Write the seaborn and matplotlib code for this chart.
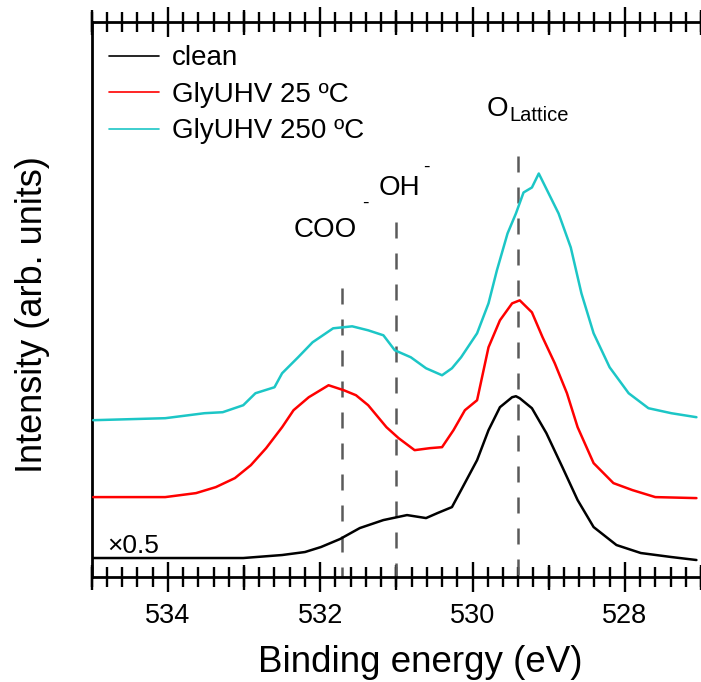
import numpy as np
import pandas as pd
import matplotlib
matplotlib.use("Agg")
import matplotlib.pyplot as plt
from matplotlib.ticker import MultipleLocator, FixedLocator, NullFormatter
import seaborn as sns

# ---------------- data ----------------
be_clean = [534.98, 534.035, 533.01, 532.50, 532.20, 531.99, 531.74, 531.48, 531.17,
            530.86, 530.61, 530.46, 530.27, 530.15, 529.94, 529.79, 529.64, 529.48,
            529.43, 529.38, 529.22, 529.03, 528.82, 528.62, 528.41, 528.11, 527.79,
            527.39, 527.06]
int_clean = [19, 19, 19, 22, 25, 30, 38, 49, 57, 62, 59, 64, 70, 87, 117, 147, 170, 180,
             181, 179, 169, 144, 110, 77, 50, 32, 24, 20, 17]

be_25 = [534.98, 534.035, 533.63, 533.37, 533.12, 532.91, 532.71, 532.50, 532.35, 532.15,
         531.89, 531.69, 531.53, 531.37, 531.13, 530.97, 530.76, 530.56, 530.40, 530.25,
         530.10, 529.94, 529.79, 529.64, 529.48, 529.38, 529.22, 529.08, 528.92, 528.76,
         528.62, 528.41, 528.15, 527.90, 527.60, 527.06]
int_25 = [80, 80, 84, 90, 99, 112, 129, 150, 167, 180, 192, 187, 182, 172, 150, 139, 127,
          129, 130, 147, 167, 177, 230, 257, 274, 277, 265, 240, 214, 184, 150, 114, 94,
          87, 80, 79]

be_250 = [534.98, 534.035, 533.52, 533.28, 533.01, 532.85, 532.60, 532.50, 532.29, 532.10,
          531.83, 531.58, 531.37, 531.17, 531.02, 530.81, 530.61, 530.40, 530.27, 530.15,
          529.94, 529.79, 529.68, 529.54, 529.43, 529.33, 529.22, 529.13, 529.00, 528.87,
          528.71, 528.57, 528.41, 528.20, 527.95, 527.69, 527.39, 527.06]
int_250 = [157, 159, 164, 165, 172, 184, 190, 204, 220, 235, 249, 251, 247, 242, 227, 220,
           209, 202, 209, 220, 244, 274, 307, 344, 364, 385, 390, 404, 384, 364, 330, 284,
           244, 210, 184, 169, 164, 160]

labels = ["clean", "GlyUHV 25 ºC", "GlyUHV 250 ºC"]
colors = ["#000000", "#ff0000", "#1cc6c6"]

peak_pos = [531.72, 531.0, 529.4]
peak_top = [289, 355, 422]

# ---------------- build frame ----------------
df = pd.concat([
    pd.DataFrame({"BE": be_clean, "I": int_clean, "sample": labels[0]}),
    pd.DataFrame({"BE": be_25, "I": int_25, "sample": labels[1]}),
    pd.DataFrame({"BE": be_250, "I": int_250, "sample": labels[2]}),
], ignore_index=True)

sns.set_style("white")
plt.rcParams["font.family"] = ["Liberation Sans", "DejaVu Sans"]
plt.rcParams["text.color"] = "black"
plt.rcParams["xtick.color"] = "black"
plt.rcParams["axes.labelcolor"] = "black"

W, H = 701, 682
fig = plt.figure(figsize=(W / 100, H / 100), dpi=100)
ax_l, ax_r, ax_b, ax_t = 91.7, 701.0, 577.0, 21.7
ax = fig.add_axes([ax_l / W, 1 - ax_b / H, (ax_r - ax_l) / W, (ax_b - ax_t) / H])

# dashed peak markers (drawn top -> bottom so the dash pattern starts at the top)
ax.vlines(peak_pos, peak_top, 0, colors="#5a5a5a", linewidth=1.8,
          linestyles=(0, (6.4, 6.0)), zorder=1)

sns.lineplot(data=df, x="BE", y="I", hue="sample", hue_order=labels,
             palette=colors, estimator=None, sort=False, linewidth=1.8, ax=ax, zorder=3)

ax.set_xlim(535, 527)
ax.set_ylim(0, 556)
ax.set_xlabel("")
ax.set_ylabel("")

# ticks
ax.xaxis.set_major_locator(FixedLocator([534, 532, 530, 528]))
ax.xaxis.set_minor_locator(MultipleLocator(0.2))
ax.set_yticks([])
ax.tick_params(axis="x", which="major", direction="inout", length=22, width=1.7,
               top=True, bottom=True, labelsize=19.5, pad=8, colors="black")
ax.tick_params(axis="x", which="minor", direction="inout", length=14, width=1.7,
               top=True, bottom=True, colors="black")
for side in ["bottom", "top"]:
    sec = ax.secondary_xaxis(side)
    sec.set_xticks([535, 533, 531, 529, 527])
    sec.xaxis.set_major_formatter(NullFormatter())
    sec.tick_params(direction="inout", length=18, width=1.7, colors="black")
    for sp in sec.spines.values():
        sp.set_visible(False)

for s in ["left", "bottom", "top"]:
    ax.spines[s].set_linewidth(2.0)
    ax.spines[s].set_color("black")
ax.spines["right"].set_visible(False)

# axis labels
fig.text(420 / W, 1 - 672 / H, "Binding energy (eV)", fontsize=26.5,
         ha="center", va="baseline")
fig.text(33 / W, 1 - 315 / H, "Intensity (arb. units)", fontsize=26,
         rotation=90, ha="center", va="center")

# annotations
ax.text(532.345, 340, "COO", fontsize=20, ha="left", va="baseline")
ax.text(531.45, 374, "-", fontsize=14, ha="left", va="center")
ax.text(531.23, 382, "OH", fontsize=20, ha="left", va="baseline")
ax.text(530.65, 410, "-", fontsize=14, ha="left", va="center")
ax.text(529.81, 462, "O", fontsize=20, ha="left", va="baseline")
ax.text(529.52, 457, "Lattice", fontsize=14.5, ha="left", va="baseline")
ax.text(534.80, 24, "×0.5", fontsize=19, ha="left", va="baseline")

# legend
leg = ax.legend(loc="upper left", bbox_to_anchor=(-0.01, 1.0), frameon=False,
                fontsize=20, handlelength=1.8, handletextpad=0.45,
                labelspacing=0.38, borderaxespad=0.45, borderpad=0.4)
for h in leg.get_lines():
    h.set_linewidth(1.2)

fig.savefig("out.png", dpi=100)
